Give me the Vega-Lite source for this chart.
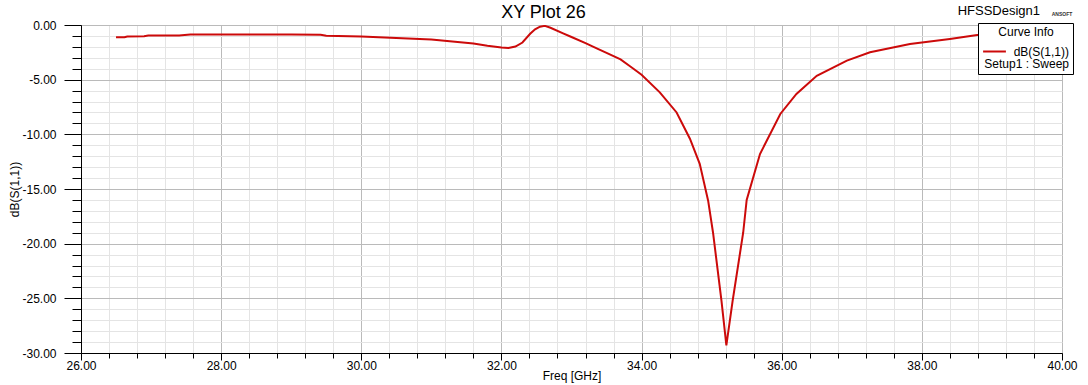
{
  "$schema": "https://vega.github.io/schema/vega-lite/v6.json",
  "autosize": "none",
  "width": 981,
  "height": 328,
  "padding": {"left": 81, "top": 25, "right": 26, "bottom": 32},
  "background": "white",
  "title": {
    "text": "XY Plot 26",
    "anchor": "middle",
    "frame": "group",
    "dx": -28,
    "offset": -31,
    "font": "Liberation Sans",
    "fontSize": 18,
    "fontWeight": "normal",
    "color": "black",
    "baseline": "alphabetic"
  },
  "config": {
    "view": {"stroke": "black", "strokeWidth": 1},
    "font": "Liberation Sans"
  },
  "layer": [
    {
      "data": {
        "values": [
          {"freq": 26.50, "db": -1.13},
          {"freq": 26.62, "db": -1.12},
          {"freq": 26.66, "db": -1.05},
          {"freq": 26.90, "db": -1.02},
          {"freq": 26.96, "db": -0.97},
          {"freq": 27.40, "db": -0.95},
          {"freq": 27.56, "db": -0.88},
          {"freq": 28.00, "db": -0.87},
          {"freq": 28.50, "db": -0.87},
          {"freq": 29.00, "db": -0.88},
          {"freq": 29.42, "db": -0.90},
          {"freq": 29.50, "db": -0.98},
          {"freq": 30.00, "db": -1.05},
          {"freq": 30.50, "db": -1.18},
          {"freq": 31.00, "db": -1.33},
          {"freq": 31.30, "db": -1.50},
          {"freq": 31.60, "db": -1.70},
          {"freq": 31.80, "db": -1.90},
          {"freq": 32.00, "db": -2.06},
          {"freq": 32.10, "db": -2.10},
          {"freq": 32.20, "db": -1.97},
          {"freq": 32.30, "db": -1.60},
          {"freq": 32.41, "db": -0.80},
          {"freq": 32.48, "db": -0.40},
          {"freq": 32.55, "db": -0.15},
          {"freq": 32.62, "db": -0.08},
          {"freq": 32.70, "db": -0.25},
          {"freq": 32.88, "db": -0.76},
          {"freq": 33.00, "db": -1.10},
          {"freq": 33.20, "db": -1.65},
          {"freq": 33.36, "db": -2.13},
          {"freq": 33.50, "db": -2.55},
          {"freq": 33.70, "db": -3.15},
          {"freq": 33.84, "db": -3.80},
          {"freq": 34.00, "db": -4.55},
          {"freq": 34.26, "db": -6.16},
          {"freq": 34.50, "db": -8.00},
          {"freq": 34.69, "db": -10.40},
          {"freq": 34.83, "db": -12.70},
          {"freq": 34.95, "db": -16.07},
          {"freq": 35.02, "db": -19.00},
          {"freq": 35.14, "db": -25.20},
          {"freq": 35.21, "db": -29.30},
          {"freq": 35.30, "db": -25.20},
          {"freq": 35.45, "db": -19.00},
          {"freq": 35.50, "db": -16.00},
          {"freq": 35.69, "db": -11.80},
          {"freq": 35.98, "db": -8.14},
          {"freq": 36.21, "db": -6.30},
          {"freq": 36.50, "db": -4.64},
          {"freq": 36.93, "db": -3.26},
          {"freq": 37.26, "db": -2.50},
          {"freq": 37.83, "db": -1.74},
          {"freq": 38.40, "db": -1.28},
          {"freq": 38.79, "db": -0.91},
          {"freq": 39.20, "db": -0.70},
          {"freq": 39.60, "db": -0.55},
          {"freq": 40.00, "db": -0.45}
        ]
      },
      "mark": {"type": "line", "strokeWidth": 2, "clip": true},
      "encoding": {
        "x": {
          "field": "freq",
          "type": "quantitative",
          "scale": {"domain": [26, 40], "nice": false, "zero": false},
          "axis": {
            "title": "Freq [GHz]",
            "titleFont": "Liberation Sans",
            "titleFontSize": 12,
            "titleFontWeight": "normal",
            "titleColor": "black",
            "titleY": 26,
            "titleBaseline": "alphabetic",
            "tickCount": 200,
            "values": [26, 26.4, 26.8, 27.2, 27.6, 28, 28.4, 28.8, 29.2, 29.6, 30, 30.4, 30.8, 31.2, 31.6, 32, 32.4, 32.8, 33.2, 33.6, 34, 34.4, 34.8, 35.2, 35.6, 36, 36.4, 36.8, 37.2, 37.6, 38, 38.4, 38.8, 39.2, 39.6, 40],
            "labelExpr": "abs(datum.value/2 - round(datum.value/2)) < 0.001 ? format(datum.value, '.2f') : ''",
            "labelOverlap": false,
            "labelFlush": false,
            "labelFont": "Liberation Sans",
            "labelFontSize": 12,
            "labelColor": "black",
            "labelPadding": 0,
            "domainColor": "black",
            "tickColor": "black",
            "tickSize": {"condition": {"test": "abs(datum.value/2 - round(datum.value/2)) < 0.001", "value": 7}, "value": 5},
            "grid": true,
            "gridColor": {"condition": {"test": "abs(datum.value/2 - round(datum.value/2)) < 0.001", "value": "#bababa"}, "value": "#e4e4e4"},
            "gridWidth": 1
          }
        },
        "y": {
          "field": "db",
          "type": "quantitative",
          "scale": {"domain": [-30, 0], "nice": false, "zero": false},
          "axis": {
            "title": "dB(S(1,1))",
            "titleFont": "Liberation Sans",
            "titleFontSize": 12,
            "titleFontWeight": "normal",
            "titleColor": "black",
            "titleAngle": -90,
            "titleX": -60,
            "titleY": 164,
            "titleAlign": "center",
            "titleBaseline": "bottom",
            "tickCount": 200,
            "values": [-30, -29, -28, -27, -26, -25, -24, -23, -22, -21, -20, -19, -18, -17, -16, -15, -14, -13, -12, -11, -10, -9, -8, -7, -6, -5, -4, -3, -2, -1, 0],
            "labelExpr": "datum.value % 5 == 0 ? (datum.value < 0 ? '-' : '') + format(abs(datum.value), '.2f') : ''",
            "labelOverlap": false,
            "labelFlush": false,
            "labelFont": "Liberation Sans",
            "labelFontSize": 12,
            "labelColor": "black",
            "labelPadding": 8,
            "domainColor": "black",
            "tickColor": "black",
            "tickSize": {"condition": {"test": "datum.value % 5 == 0", "value": 17}, "value": 9},
            "grid": true,
            "gridColor": {"condition": {"test": "datum.value % 5 == 0", "value": "#bababa"}, "value": "#e4e4e4"},
            "gridWidth": 1
          }
        },
        "color": {
          "datum": "dB(S(1,1))",
          "type": "nominal",
          "scale": {"range": ["#cc0a0a"]},
          "legend": {
            "orient": "none",
            "legendX": 897,
            "legendY": -2,
            "title": "Curve Info",
            "titleAnchor": "middle",
            "titleFont": "Liberation Sans",
            "titleFontSize": 12,
            "titleFontWeight": "normal",
            "titleColor": "black",
            "titlePadding": 0,
            "fillColor": "white",
            "strokeColor": "black",
            "padding": 4,
            "symbolType": "stroke",
            "symbolStrokeWidth": 2,
            "symbolSize": 520,
            "labelExpr": "['dB(S(1,1))', 'Setup1 : Sweep']",
            "labelFont": "Liberation Sans",
            "labelFontSize": 12,
            "labelColor": "black",
            "labelAlign": "right",
            "labelBaseline": "middle",
            "labelOffset": 62,
            "labelLimit": 200,
            "encode": {"labels": {"update": {"lineHeight": {"value": 12}}}}
          }
        }
      }
    },
    {
      "data": {"values": [{"label": "HFSSDesign1"}]},
      "mark": {"type": "text", "align": "right", "baseline": "alphabetic", "dx": -22, "dy": -10, "font": "Liberation Sans", "fontSize": 13, "color": "black"},
      "encoding": {
        "text": {"field": "label"},
        "x": {"datum": 40, "type": "quantitative"},
        "y": {"datum": 0, "type": "quantitative"}
      }
    },
    {
      "data": {"values": [{"label": "ANSOFT"}]},
      "mark": {"type": "text", "align": "center", "baseline": "alphabetic", "dx": 0, "dy": -9, "font": "Liberation Sans", "fontSize": 5, "fontWeight": "bold", "color": "#333333"},
      "encoding": {
        "text": {"field": "label"},
        "x": {"datum": 40, "type": "quantitative"},
        "y": {"datum": 0, "type": "quantitative"}
      }
    }
  ]
}
